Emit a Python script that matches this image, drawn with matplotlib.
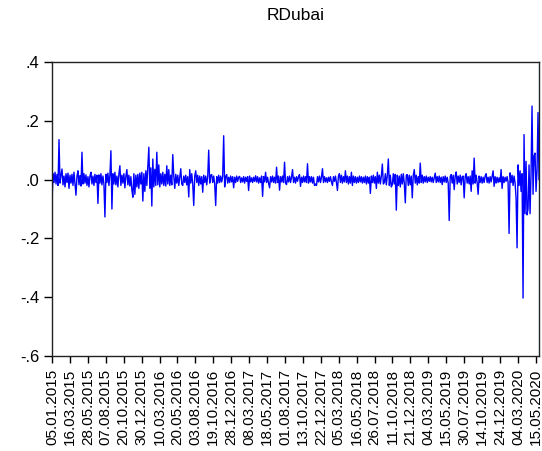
import numpy as np
import matplotlib
matplotlib.use("Agg")
import matplotlib.pyplot as plt

plt.rcParams["font.family"] = ["Liberation Sans", "DejaVu Sans"]

# Daily returns (roughly one value per pixel column)
ret = [
    -0.078, 0.02, -0.01, 0.025, -0.015, 0.018, -0.02, 0.136, -0.012, 0.015,
    0.036, -0.018, 0.012, -0.025, 0.02, -0.01, 0.022, -0.03, 0.015, -0.012,
    0.018, -0.02, 0.025, -0.015, -0.053, 0.012, 0.03, -0.018, 0.014, -0.022,
    0.093, -0.015, 0.02, -0.012, 0.016, -0.02, 0.01, -0.025, 0.012, 0.025,
    -0.015, 0.012, -0.02, 0.018, -0.01, 0.015, -0.081, 0.016, -0.012, 0.02,
    -0.018, 0.012, -0.015, -0.127, 0.018, -0.01, 0.022, -0.02, 0.015, 0.098,
    -0.10, 0.02, -0.015, 0.025, -0.018, 0.012, -0.025, 0.018, 0.047, -0.02,
    0.015, -0.012, 0.02, -0.028, 0.012, 0.034, -0.018, 0.015, -0.022, 0.01,
    -0.035, -0.06, 0.02, -0.05, 0.015, -0.025, 0.018, -0.03, 0.022, -0.015,
    0.025, -0.073, 0.02, -0.04, 0.03, -0.02, 0.045, 0.11, -0.03, 0.04,
    -0.09, 0.07, -0.025, 0.035, -0.02, 0.093, -0.018, 0.05, -0.025, 0.02,
    -0.015, 0.025, -0.02, 0.018, -0.022, 0.047, -0.015, 0.034, -0.02, 0.015,
    -0.018, 0.085, 0.012, -0.03, 0.018, -0.012, 0.015, -0.02, 0.01, 0.037,
    -0.015, -0.02, 0.012, -0.01, 0.015, -0.018, 0.01, -0.059, 0.034, -0.012,
    0.02, -0.015, -0.088, 0.012, 0.03, -0.01, 0.015, -0.02, 0.012, -0.015,
    0.01, -0.043, 0.015, -0.01, 0.012, -0.018, 0.01, 0.10, -0.012, 0.015,
    0.017, -0.01, 0.012, -0.015, -0.088, 0.01, -0.012, 0.015, -0.01, 0.012,
    -0.008, 0.01, 0.149, -0.025, 0.01, 0.017, -0.012, 0.008, -0.01, 0.012,
    -0.008, 0.01, -0.028, 0.008, -0.01, 0.012, -0.006, 0.008, 0.011, -0.01,
    0.006, -0.008, 0.01, -0.012, 0.008, -0.006, 0.01, -0.037, 0.012, -0.008,
    0.006, -0.01, 0.008, -0.006, 0.013, -0.008, 0.01, -0.012, 0.006, -0.01,
    0.012, -0.057, 0.01, -0.008, 0.025, -0.01, 0.008, -0.012, -0.028, 0.01,
    -0.008, 0.012, -0.01, 0.008, -0.012, 0.042, -0.01, 0.012, -0.036, 0.01,
    -0.008, 0.012, -0.01, 0.059, -0.012, -0.017, 0.01, -0.008, 0.012, -0.01,
    0.008, 0.034, -0.01, 0.008, -0.012, 0.01, -0.006, 0.01, 0.017, -0.023,
    0.008, -0.01, 0.012, -0.008, 0.01, -0.01, 0.054, -0.012, 0.01, -0.008,
    0.01, -0.012, 0.008, -0.02, -0.015, -0.02, 0.01, -0.008, 0.012, -0.01,
    0.008, 0.037, -0.01, 0.01, -0.008, 0.006, -0.01, 0.008, -0.006, 0.01,
    -0.008, -0.02, 0.01, -0.006, 0.012, -0.01, -0.037, 0.012, 0.02, -0.01,
    0.015, -0.012, 0.01, -0.008, 0.03, -0.01, 0.012, -0.015, 0.01, -0.012,
    0.025, -0.02, 0.012, -0.01, 0.01, -0.012, 0.008, -0.01, 0.012, -0.008,
    0.01, -0.012, 0.008, -0.01, 0.012, -0.015, 0.01, -0.012, 0.008, -0.047,
    0.012, -0.01, 0.015, -0.012, 0.01, -0.03, 0.025, -0.012, 0.015, -0.015,
    0.012, 0.053, -0.015, -0.01, 0.02, -0.018, 0.015, 0.07, -0.02, 0.015,
    -0.025, -0.017, 0.02, -0.015, 0.018, -0.104, 0.015, -0.02, 0.012, -0.025,
    0.018, -0.015, 0.02, -0.012, -0.079, 0.015, 0.017, -0.02, 0.015, -0.018,
    0.012, -0.062, 0.015, 0.034, -0.012, 0.015, -0.018, 0.01, -0.012, 0.056,
    -0.01, 0.015, -0.012, 0.01, -0.008, 0.012, -0.01, 0.008, -0.006, 0.01,
    -0.008, 0.008, -0.01, 0.006, 0.022, -0.01, 0.01, -0.008, 0.012, -0.01,
    0.008, -0.017, 0.01, -0.008, 0.012, -0.01, 0.008, -0.012, -0.139, 0.01,
    0.017, -0.012, 0.015, -0.034, 0.012, 0.026, -0.015, 0.012, -0.01, 0.015,
    -0.018, 0.01, 0.012, -0.062, 0.01, 0.02, -0.012, 0.01, -0.015, 0.012,
    -0.04, 0.03, -0.015, 0.073, -0.012, 0.015, -0.01, -0.05, 0.012, -0.01,
    0.01, -0.012, 0.008, -0.01, 0.012, 0.02, -0.01, 0.008, -0.012, 0.01,
    -0.008, 0.012, 0.03, -0.023, 0.01, -0.012, 0.008, -0.01, 0.006, -0.008,
    0.034, -0.03, 0.01, -0.01, 0.008, -0.006, 0.01, -0.008, -0.183, 0.023,
    -0.01, 0.015, -0.02, 0.012, -0.011, -0.062, -0.232, 0.05, -0.02, 0.03,
    -0.04, 0.02, -0.403, 0.153, -0.116, 0.062, -0.12, -0.10, 0.05, -0.116,
    0.02, 0.25, -0.05, 0.08, 0.09, -0.04, 0.03, 0.228, 0.0,
]

# date labels, one every 50 observations
date_labels = [
    "05.01.2015", "16.03.2015", "28.05.2015", "07.08.2015", "20.10.2015",
    "30.12.2015", "10.03.2016", "20.05.2016", "03.08.2016", "19.10.2016",
    "28.12.2016", "08.03.2017", "18.05.2017", "01.08.2017", "13.10.2017",
    "22.12.2017", "05.03.2018", "16.05.2018", "26.07.2018", "11.10.2018",
    "21.12.2018", "04.03.2019", "15.05.2019", "30.07.2019", "14.10.2019",
    "24.12.2019", "04.03.2020", "15.05.2020",
]
n_obs = 1360
y_ticks = [-0.6, -0.4, -0.2, 0.0, 0.2, 0.4]
y_labels = ["-.6", "-.4", "-.2", ".0", ".2", ".4"]

x = np.linspace(0, n_obs - 1, len(ret))

fig = plt.figure(figsize=(5.42, 4.51), dpi=100)
ax = fig.add_axes([0.096, 0.2106, 0.8985, 0.652])

ax.plot(x, ret, color="#0000ff", linewidth=1.0)

ax.set_xlim(0, n_obs - 1)
ax.set_ylim(-0.6, 0.4)
ax.set_xticks(np.arange(len(date_labels)) * 50)
ax.set_xticklabels(date_labels, rotation=90, fontsize=11)
ax.set_yticks(y_ticks)
ax.set_yticklabels(y_labels, fontsize=12)
ax.tick_params(axis="x", direction="out", length=5, width=1, pad=4)
ax.tick_params(axis="y", direction="out", length=6, width=1, pad=3)

for s in ax.spines.values():
    s.set_linewidth(1.0)
    s.set_color("#222222")

ax.set_title("RDubai", fontsize=12.5, pad=30)

fig.savefig("out.png", dpi=100)
